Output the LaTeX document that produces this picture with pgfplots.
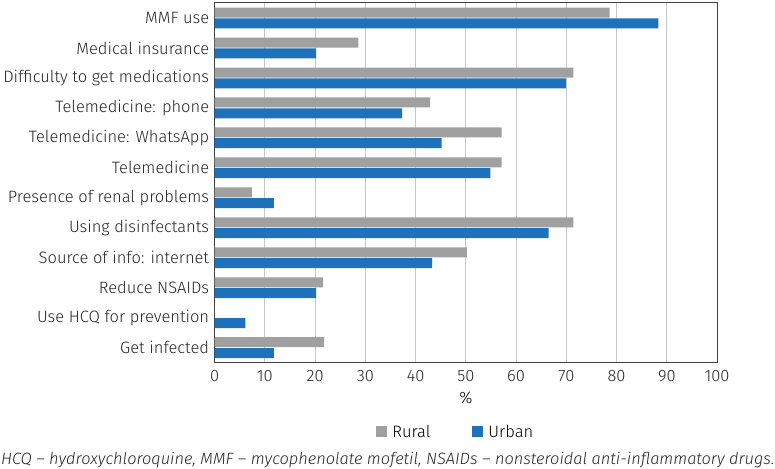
\documentclass[border=0pt]{standalone}
\usepackage{pgfplots}
\pgfplotsset{compat=1.18}
\usepackage{fontspec}
\setmainfont{Fira Sans}[UprightFont=* Light, ItalicFont=* Light Italic]
\definecolor{rural}{RGB}{160,160,160}
\definecolor{urban}{RGB}{30,114,187}
\definecolor{frame}{RGB}{64,64,64}
\definecolor{gridc}{RGB}{200,200,200}
\begin{document}
\begin{tikzpicture}
\begin{axis}[
  name=ax,
  scale only axis,
  width=503pt, height=360pt,
  xbar=0pt,
  bar width=10pt,
  y dir=reverse,
  xmin=0, xmax=100,
  ymin=-0.5, ymax=11.5,
  xtick={0,10,...,100},
  ytick={0,...,11},
  yticklabels={MMF use,Medical insurance,Difficulty to get medications,Telemedicine: phone,Telemedicine: WhatsApp,Telemedicine,Presence of renal problems,Using disinfectants,Source of info: internet,Reduce NSAIDs,Use HCQ for prevention,Get infected},
  major tick length=0pt,
  xmajorgrids,
  major grid style={gridc, line width=1pt},
  axis line style={frame, line width=1pt},
  tick label style={font=\fontsize{16.5}{18}\selectfont, text=black!85},
  /pgf/number format/assume math mode=true,
  xticklabel style={yshift=-4pt},
  yticklabel style={xshift=-2pt},
  xlabel={\%},
  xlabel style={font=\fontsize{16.5}{18}\selectfont, yshift=-3pt},
  legend style={at={(0.48,-0.192)}, anchor=center, draw=none, legend columns=2,
    font=\fontsize{16.5}{18}\selectfont, /tikz/every even column/.append style={column sep=40pt},
    /tikz/every odd column/.append style={column sep=3pt}},
  legend image code/.code={\fill[#1] (0pt,-5.5pt) rectangle (11pt,5.5pt);},
]
\addplot[draw=none, fill=rural, bar shift=5.4pt] coordinates {
(78.6,0) (28.6,1) (71.4,2) (42.9,3) (57.1,4) (57.1,5) (7.4,6) (71.4,7) (50.2,8) (21.6,9) (0,10) (21.8,11)};
\addlegendentry{Rural}
\addplot[draw=none, fill=urban, bar shift=-5.4pt] coordinates {
(88.3,0) (20.2,1) (69.9,2) (37.3,3) (45.2,4) (54.9,5) (11.8,6) (66.5,7) (43.3,8) (20.2,9) (6.1,10) (11.8,11)};
\addlegendentry{Urban}
\end{axis}
\node[anchor=base west, xshift=-214pt, yshift=-102pt, inner sep=0pt, font=\itshape\fontsize{16.4}{18}\selectfont, text=black!85] at (ax.south west) {HCQ – hydroxychloroquine, MMF – mycophenolate mofetil, NSAIDs – nonsteroidal anti-inflammatory drugs.};
\path ([xshift=-214pt,yshift=-106pt]ax.south west) rectangle ([xshift=58pt,yshift=3pt]ax.north east);
\end{tikzpicture}
\end{document}
